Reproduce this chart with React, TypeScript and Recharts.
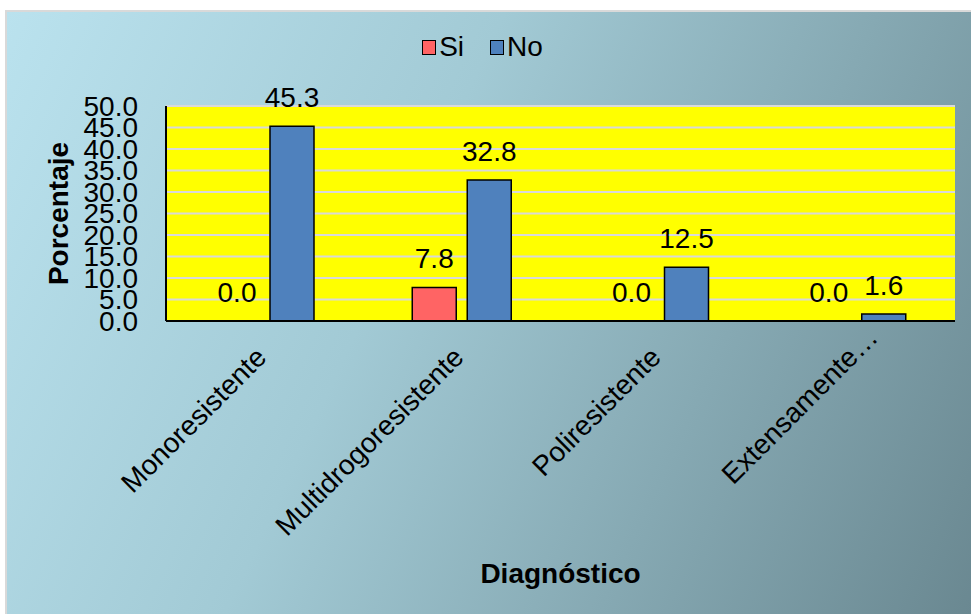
import React from 'react';
import { BarChart, Bar, XAxis, YAxis, CartesianGrid, Legend, LabelList, Label } from 'recharts';

const categories = ['Monoresistente', 'Multidrogoresistente', 'Poliresistente', 'Extensamente resistente'];
const siValues = [0.0, 7.8, 0.0, 0.0];
const noValues = [45.3, 32.8, 12.5, 1.6];
const yTicks = [0, 5, 10, 15, 20, 25, 30, 35, 40, 45, 50];
const seriesNames = ['Si', 'No'];
const seriesColors = ['#FF6464', '#4F81BD'];

const data = categories.map((name, i) => ({ name, si: siValues[i], no: noValues[i] }));

const FONT = '"Liberation Sans", Arial, sans-serif';

const CategoryTick = (props: any) => {
  const { x, y, payload } = props;
  const full: string = payload.value;
  const cut = full.length > 20;
  const text = cut ? full.split(' ')[0] : full;
  const bx = x + 3.5;
  const by = y + 38;
  const tr = `rotate(-45 ${bx} ${by})`;
  return (
    <g>
      <text x={bx} y={by} transform={tr} textAnchor="end" fontSize={28} fontFamily={FONT} fill="#000">
        {text}
      </text>
      {cut && (
        <text x={bx} y={by} transform={tr} textAnchor="start" fontSize={28} fontFamily={FONT} fill="#000">
          …
        </text>
      )}
    </g>
  );
};

const renderLegend = () => (
  <div style={{ display: 'flex', justifyContent: 'center', alignItems: 'center', fontFamily: FONT, fontSize: 28, lineHeight: '32px', color: '#000' }}>
    {seriesNames.map((n, i) => (
      <span key={n} style={{ display: 'flex', alignItems: 'center', marginRight: i === 0 ? 26 : 0 }}>
        <span style={{ display: 'inline-block', width: 12, height: 13, background: seriesColors[i], border: '1.5px solid #000', marginRight: 3 }} />
        {n}
      </span>
    ))}
  </div>
);

const fmt = (v: any) => Number(v).toFixed(1);

export default function App() {
  return (
    <div
      style={{
        position: 'absolute',
        left: 5,
        top: 10,
        width: 966,
        height: 604,
        boxSizing: 'border-box',
        borderTop: '2px solid #D9D9D9',
        borderLeft: '2px solid #D9D9D9',
        background: 'linear-gradient(115deg, #BAE2EE 0%, #A2CAD5 40%, #6A8891 100%)',
        overflow: 'hidden',
      }}
    >
      <BarChart
        width={960}
        height={600}
        data={data}
        margin={{ top: 94, right: 12, left: 0, bottom: 0 }}
        barSize={44}
        barGap={11}
      >
        <CartesianGrid vertical={false} stroke="#D9D9D9" strokeWidth={2} fill="#FFFF00" />
        <Legend
          verticalAlign="middle"
          content={renderLegend}
          wrapperStyle={{ top: 19, left: 0, width: 951 }}
        />
        <XAxis
          dataKey="name"
          interval={0}
          height={291}
          tickSize={0}
          tickMargin={0}
          tick={<CategoryTick />}
          axisLine={{ stroke: '#000', strokeWidth: 2 }}
          tickLine={false}
        >
          <Label
            content={(p: any) => {
              const vb = p.viewBox || { x: 159, y: 309, width: 789, height: 291 };
              return (
                <text x={vb.x + vb.width / 2} y={vb.y + 252} textAnchor="middle" dominantBaseline="central" fontSize={28} fontWeight="bold" fontFamily={FONT} fill="#000">
                  Diagnóstico
                </text>
              );
            }}
          />
        </XAxis>
        <YAxis
          width={159}
          domain={[0, 50]}
          ticks={yTicks}
          interval={0}
          tickSize={0}
          tickMargin={28}
          tickFormatter={(v: number) => v.toFixed(1)}
          tick={{ fill: '#000', fontSize: 28, fontFamily: FONT }}
          axisLine={{ stroke: '#000', strokeWidth: 2 }}
          tickLine={false}
        >
          <Label
            content={(p: any) => {
              const vb = p.viewBox || { x: 0, y: 94, width: 159, height: 215 };
              const cx = vb.x + 51;
              const cy = vb.y + vb.height / 2;
              return (
                <text x={cx} y={cy} transform={`rotate(-90 ${cx} ${cy})`} textAnchor="middle" dominantBaseline="central" fontSize={28} fontWeight="bold" fontFamily={FONT} fill="#000">
                  Porcentaje
                </text>
              );
            }}
          />
        </YAxis>
        <Bar dataKey="si" name={seriesNames[0]} fill={seriesColors[0]} stroke="#000" strokeWidth={1.5} minPointSize={0.01} isAnimationActive={false}>
          <LabelList dataKey="si" position="top" offset={19} formatter={fmt} fill="#000" fontSize={28} fontFamily={FONT} />
        </Bar>
        <Bar dataKey="no" name={seriesNames[1]} fill={seriesColors[1]} stroke="#000" strokeWidth={1.5} minPointSize={0.01} isAnimationActive={false}>
          <LabelList dataKey="no" position="top" offset={19} formatter={fmt} fill="#000" fontSize={28} fontFamily={FONT} />
        </Bar>
      </BarChart>
    </div>
  );
}
